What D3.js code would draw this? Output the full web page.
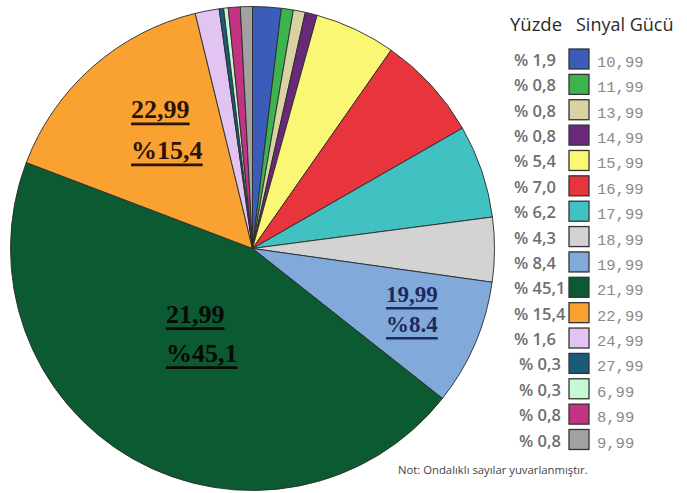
<!DOCTYPE html>
<html>
<head>
<meta charset="utf-8">
<script src="https://cdn.jsdelivr.net/npm/d3@7"></script>
<style>
  html, body { margin: 0; padding: 0; background: #fff; }
  svg { display: block; }
</style>
</head>
<body>
<svg id="chart" width="687" height="493"></svg>
<script>
// ---- Data (clockwise from 12 o'clock) ----
const signals  = ["10,99","11,99","13,99","14,99","15,99","16,99","17,99","18,99","19,99","21,99","22,99","24,99","27,99","6,99","8,99","9,99"];
const percents = [1.9, 0.8, 0.8, 0.8, 5.4, 7.0, 6.2, 4.3, 8.4, 45.1, 15.4, 1.6, 0.3, 0.3, 0.8, 0.8];
const colors   = ["#3b5cb8","#3cb34c","#d9d2a2","#6a2878","#f9f774","#e8353d","#41c1c2","#d3d3d3","#81a9da","#0b5a31","#f9a231","#e2c4f2","#1b5a78","#c4f9d4","#c23482","#a2a2a2"];
const legendTitleLeft  = "Yüzde";
const legendTitleRight = "Sinyal Gücü";
const noteText = "Not: Ondalıklı sayılar yuvarlanmıştır.";
// in-pie labels: [signal, line1, line2]
const pieLabels = [
  ["22,99", "22,99", "%15,4"],
  ["21,99", "21,99", "%45,1"],
  ["19,99", "19,99", "%8.4"]
];

// ---- Layout / style config ----
const cx = 252.5, cy = 248.5, R = 242;
const labelStyle = {
  "22,99": {r: 0.595, ang: 323.5, size: 26, gap: 41, color: "#2a1408"},
  "21,99": {r: 0.42,  ang: 210,   size: 26, gap: 39, color: "#080808"},
  "19,99": {r: 0.71,  ang: 111.9, size: 23, gap: 30, color: "#1c2a5c"}
};

const svg = d3.select("#chart");
const data = signals.map((s, i) => ({signal: s, value: percents[i], color: colors[i]}));

const pie = d3.pie().sort(null).value(d => d.value);
const arc = d3.arc().innerRadius(0).outerRadius(R);
const arcs = pie(data);

const g = svg.append("g").attr("transform", `translate(${cx},${cy})`);
g.selectAll("path.slice")
  .data(arcs)
  .join("path")
  .attr("class", "slice")
  .attr("d", arc)
  .attr("fill", d => d.data.color)
  .attr("stroke", "#2a2a2a")
  .attr("stroke-width", 0.9)
  .attr("stroke-linejoin", "round");

// in-pie labels
const labelLayer = g.append("g");
pieLabels.forEach(([sig, l1, l2]) => {
  const st = labelStyle[sig];
  const rad = st.ang * Math.PI / 180;
  const mx = Math.sin(rad) * R * st.r;
  const my = -Math.cos(rad) * R * st.r;
  const grp = labelLayer.append("g");
  const lines = [l1, l2];
  const texts = lines.map(t => grp.append("text")
      .text(t)
      .attr("font-family", "'Liberation Serif', 'Times New Roman', serif")
      .attr("font-weight", "bold")
      .attr("font-size", st.size)
      .attr("fill", st.color));
  const widths = texts.map(t => t.node().getComputedTextLength());
  const maxW = d3.max(widths);
  const capH = st.size * 0.66;
  const blockH = capH + st.gap + 6;
  const x0 = mx - maxW / 2;
  const yTop = my - blockH / 2;
  texts.forEach((t, k) => {
    const base = yTop + capH + k * st.gap;
    t.attr("x", x0).attr("y", base);
    grp.append("line")
      .attr("x1", x0).attr("x2", x0 + widths[k])
      .attr("y1", base + 6).attr("y2", base + 6)
      .attr("stroke", st.color)
      .attr("stroke-width", 2.6);
  });
});

// ---- Legend ----
const legend = svg.append("g");
legend.append("text")
  .attr("x", 510).attr("y", 31)
  .attr("font-family", "'Open Sans', sans-serif")
  .attr("font-size", 18.5)
  .attr("fill", "#2a2a2a")
  .text(legendTitleLeft);
legend.append("text")
  .attr("x", 576).attr("y", 31)
  .attr("font-family", "'Open Sans', sans-serif")
  .attr("font-size", 18)
  .attr("fill", "#2a2a2a")
  .text(legendTitleRight);

const rowY = d3.scaleLinear().domain([0, signals.length - 1]).range([59, 439.5]);
const fmtPct = v => "% " + v.toFixed(1).replace(".", ",");

const rows = legend.selectAll("g.row")
  .data(data)
  .join("g")
  .attr("class", "row")
  .attr("transform", (d, i) => `translate(0,${rowY(i)})`);

rows.append("text")
  .attr("x", (d, i) => i >= 12 ? 519 : 514)
  .attr("y", 7)
  .attr("font-family", "'Open Sans', sans-serif")
  .attr("font-weight", 600)
  .attr("font-size", 16.5)
  .attr("fill", "#6e6e6e")
  .text(d => fmtPct(d.value));

rows.append("rect")
  .attr("x", 569).attr("y", -10)
  .attr("width", 20).attr("height", 20)
  .attr("fill", d => d.color)
  .attr("stroke", "#333")
  .attr("stroke-width", 1.3);

rows.append("text")
  .attr("x", 597)
  .attr("y", 8)
  .attr("font-family", "'Liberation Mono', 'DejaVu Sans Mono', monospace")
  .attr("font-size", 15.5)
  .attr("fill", "#8a8a8a")
  .text(d => d.signal);

svg.append("text")
  .attr("x", 398).attr("y", 474)
  .attr("font-family", "'Open Sans', sans-serif")
  .attr("font-size", 11.3)
  .attr("fill", "#444")
  .text(noteText);
</script>
</body>
</html>
